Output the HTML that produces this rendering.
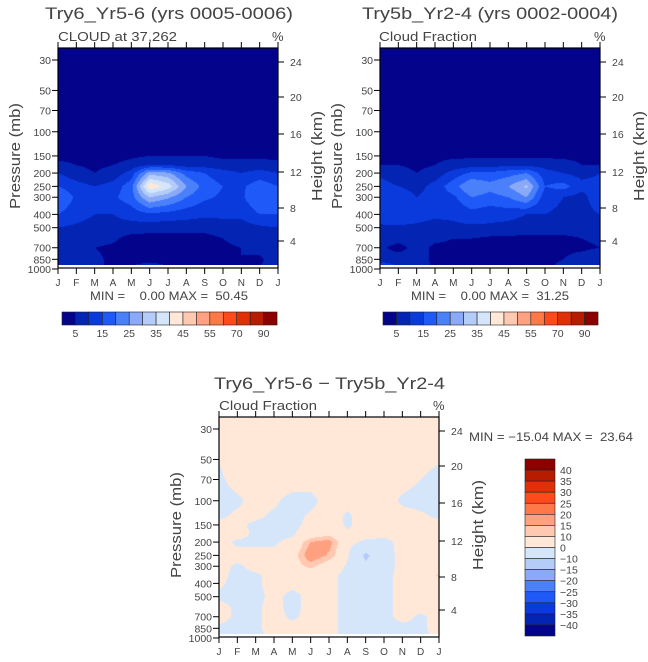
<!DOCTYPE html>
<html><head><meta charset="utf-8">
<style>
body{margin:0;background:#fff;width:648px;height:662px;overflow:hidden;position:relative;font-family:"Liberation Sans",sans-serif}
canvas{position:absolute}
svg{position:absolute;left:0;top:0}
text{font-family:"Liberation Sans",sans-serif;fill:#444;white-space:pre}
</style></head>
<body>
<canvas id="c1" width="220" height="217" style="left:58px;top:48px"></canvas>
<canvas id="c2" width="220" height="217" style="left:380px;top:48px"></canvas>
<canvas id="c3" width="220" height="217" style="left:219px;top:417px"></canvas>
<svg id="s" width="648" height="662"></svg>
<script>
const monthLabels=["J","F","M","A","M","J","J","A","S","O","N","D","J"];
const pressureTicks=[30,50,70,100,150,200,250,300,400,500,700,850,1000];
const heightTicks=[4,8,12,16,20,24];
const heightOffsets=[193,160,124,86,49,14];
const levelsCloud=[5,10,15,20,25,30,35,40,45,50,55,60,70,80,90];
const cloudBarLabels=["5","15","25","35","45","55","70","90"];
const levelsDiff=[-40,-35,-30,-25,-20,-15,-10,0,10,15,20,25,30,35,40];
const diffBarLabels=["40","35","30","25","20","15","10","0","\u221210","\u221215","\u221220","\u221225","\u221230","\u221235","\u221240"];
const palette=["#03038c","#0424b4","#0a3adc","#1f5af8","#4a80fa","#8aaaf8","#b4ccf8","#d6e6fa","#ffe8d8","#ffc8b0","#ffa080","#ff7848","#ff4a1c","#e03008","#b81c00","#8c0000"];
const pressureCloud=[25,100,150,175,200,250,300,400,500,600,700,850,950];
const cloudTry6=[
[0,0,0,0,0,0,0,0,0,0,0,0,0],
[1,1,1,1,1,1,1,1,1,1,1,1,1],
[4,4,3,3,4,5,5,5,5,4,4,4,4],
[6,5,4,5,7,10,10,8,8,7,7,7,6],
[10,7,5,7,12,28,26,18,15,12,10,12,10],
[15,12,10,12,18,44,38,25,18,15,14,18,15],
[20,14,12,14,18,30,26,20,16,14,14,20,20],
[15,12,10,10,12,14,13,12,11,11,11,15,15],
[10,9,8,8,8,7,7,7,7,8,8,9,10],
[9,8,7,6,3,3,3,3,3,5,7,8,9],
[9,8,5,4,3,3,3,3,3,4,5,7,9],
[8,7,6,4,4,4,4,4,4,4,5,4,8],
[7,6,5,5,5,6,5,5,5,5,5,5,7]];
const cloudTry5b=[
[0,0,0,0,0,0,0,0,0,0,0,0,0],
[1,1,1,1,1,1,1,1,1,1,1,1,1],
[3,3,3,4,4,4,4,4,4,4,4,4,3],
[5,5,4,5,7,8,8,9,9,8,7,5,5],
[9,7,5,7,12,16,16,18,20,12,10,8,10],
[12,10,8,12,18,25,22,25,31,15,17,12,12],
[15,14,10,12,14,20,18,20,25,12,10,8,14],
[13,14,12,11,11,13,12,12,10,10,9,8,10],
[9,9,9,8,9,9,9,8,7,7,7,7,9],
[8,7,8,6,5,5,4,4,4,4,4,5,6],
[6,3,7,4,4,4,4,4,4,4,4,4,5],
[9,8,7,4,4,4,4,4,4,4,5,7,9],
[12,10,8,4,4,4,4,4,4,4,6,8,10]];
const pressureDiff=[25,70,100,130,150,175,200,250,300,350,400,500,600,700,850,950];
const cloudDiff=[
[3,3,3,3,3,3,3,3,3,3,3,3,3],
[-1,2,3,3,3,3,3,3,3,3,2,0,-1],
[-2,-1,2,1,-2,-2,3,2,3,3,-1,-2,-2],
[-1,1,1,-1,-2,1,3,-1,3,3,2,1,-1],
[2,1,-1,-2,-2,2,3,-1,3,3,2,2,2],
[2,2,-1,-2,-1,5,8,1,2,2,2,2,2],
[2,-1,-1,-1,2,15,18,2,-1,-2,2,2,2],
[2,2,2,2,6,20,14,1,-12,-3,2,2,2],
[2,-1,2,2,6,12,5,-1,-8,-3,2,5,2],
[2,-2,-1,2,3,3,2,-2,-3,-2,2,6,11],
[1,-2,-1,2,2,2,2,-2,-3,-2,2,3,3],
[-1,-2,-2,2,-2,2,2,-2,-2,-2,2,2,2],
[2,-1,-1,2,-2,2,2,-2,-2,-2,2,2,2],
[2,-1,-1,2,-1,2,2,-2,-2,-2,2,-1,2],
[-1,-2,-1,2,2,2,2,-2,-2,-2,-2,-1,2],
[-2,-11,-2,2,2,2,2,-2,-2,-2,-2,-2,2]];

const PX_DEC=209/Math.log10(1000/30);
function yOfP(p){return 12+(Math.log10(p)-Math.log10(30))*PX_DEC;}
function pOfY(y){return Math.pow(10,Math.log10(30)+(y-12)/PX_DEC);}
function colorFor(v,levels){let i=0;while(i<levels.length&&v>=levels[i])i++;return palette[i];}

function renderContour(id,pres,grid,levels){
  const cv=document.getElementById(id),ctx=cv.getContext('2d');
  const W=220,H=217,lp=pres.map(p=>Math.log10(p));
  for(let y=0;y<H;y++){
    const p=pOfY(y+0.5);
    if(p>935)break;
    const l=Math.log10(p);
    let r=0;while(r<lp.length-2&&l>lp[r+1])r++;
    let t=(l-lp[r])/(lp[r+1]-lp[r]);t=Math.max(0,Math.min(1,t));
    for(let x=0;x<W;x++){
      const m=(x+0.5)/W*(monthLabels.length-1);
      const c=Math.min(Math.floor(m),monthLabels.length-2),s=m-c;
      const v=(1-t)*((1-s)*grid[r][c]+s*grid[r][c+1])+t*((1-s)*grid[r+1][c]+s*grid[r+1][c+1]);
      ctx.fillStyle=colorFor(v,levels);ctx.fillRect(x,y,1,1);
    }
  }
}
renderContour('c1',pressureCloud,cloudTry6,levelsCloud);
renderContour('c2',pressureCloud,cloudTry5b,levelsCloud);
renderContour('c3',pressureDiff,cloudDiff,levelsDiff);

const NS="http://www.w3.org/2000/svg",svg=document.getElementById('s');
function el(tag,attrs,txt){const e=document.createElementNS(NS,tag);for(const k in attrs)e.setAttribute(k,attrs[k]);if(txt!==undefined)e.textContent=txt;svg.appendChild(e);return e;}
function txt(x,y,s,size,name,opts){
  const e=el('text',Object.assign({x:x,y:y,'font-size':size},opts||{}),s);
  
  
  return e;
}
function axes(L,T,pfx){
  const f=el('rect',{x:L,y:T,width:220,height:220,fill:'none',stroke:'#000','stroke-width':1.2});
  
  
  monthLabels.forEach((m,i)=>{
    const x=L+i*220/12;
    el('line',{x1:x,y1:T+220,x2:x,y2:T+226,stroke:'#000'});
    el('line',{x1:x,y1:T,x2:x,y2:T-6,stroke:'#000'});
    txt(x,T+238,m,10,pfx+'-month-label',{'text-anchor':'middle'});
  });
  pressureTicks.forEach(p=>{
    const y=T+yOfP(p);
    el('line',{x1:L,y1:y,x2:L-6,y2:y,stroke:'#000'});
    txt(L-7,y+4,String(p),10.5,pfx+'-pressure-tick',{'text-anchor':'end'});
  });
  heightTicks.forEach((h,i)=>{
    const y=T+heightOffsets[i];
    el('line',{x1:L+220,y1:y,x2:L+226,y2:y,stroke:'#000'});
    txt(L+232,y+4,String(h),10.5,pfx+'-height-tick');
  });
  txt(0,0,'Pressure (mb)',15,pfx+'-y-axis-title',{transform:`translate(${L-38},${T+108}) rotate(-90)`,'text-anchor':'middle',textLength:106,lengthAdjust:'spacingAndGlyphs',fill:'#666'});
  txt(0,0,'Height (km)',15,pfx+'-y2-axis-title',{transform:`translate(${L+264},${T+108}) rotate(-90)`,'text-anchor':'middle',textLength:90,lengthAdjust:'spacingAndGlyphs',fill:'#666'});
  txt(L+214,T-7,'%',13,pfx+'-units-label');
}
function hbar(L,T,pfx){
  palette.forEach((c,i)=>{
    const r=el('rect',{x:L+i*13.44,y:T,width:13.44,height:13,fill:c,stroke:'#222','stroke-width':0.6});
    
    
  });
  cloudBarLabels.forEach((s,j)=>txt(L+(2*j+1)*13.44,T+25,s,10.5,pfx+'-colorbar-label',{'text-anchor':'middle'}));
}
axes(58,48,'p1');axes(380,48,'p2');axes(219,417,'p3');
txt(45,19,'Try6_Yr5-6 (yrs 0005-0006)',17,'p1-title',{textLength:248,lengthAdjust:'spacingAndGlyphs',fill:'#555'});
txt(58,41,'CLOUD at 37,262',13,'p1-subtitle',{textLength:119,lengthAdjust:'spacingAndGlyphs'});
txt(90,300,'MIN =    0.00 MAX =  50.45',12,'p1-min-max',{textLength:158,lengthAdjust:'spacingAndGlyphs'});
txt(362,19,'Try5b_Yr2-4 (yrs 0002-0004)',17,'p2-title',{textLength:256,lengthAdjust:'spacingAndGlyphs',fill:'#555'});
txt(379,41,'Cloud Fraction',13,'p2-subtitle',{textLength:98,lengthAdjust:'spacingAndGlyphs'});
txt(411,300,'MIN =    0.00 MAX =  31.25',12,'p2-min-max',{textLength:158,lengthAdjust:'spacingAndGlyphs'});
txt(214,389,'Try6_Yr5-6 \u2212 Try5b_Yr2-4',17,'p3-title',{textLength:231,lengthAdjust:'spacingAndGlyphs',fill:'#555'});
txt(219,410,'Cloud Fraction',13,'p3-subtitle',{textLength:98,lengthAdjust:'spacingAndGlyphs'});
txt(469,441,'MIN = \u221215.04 MAX =  23.64',12,'p3-min-max',{textLength:164,lengthAdjust:'spacingAndGlyphs'});
hbar(62,312,'p1');hbar(383,312,'p2');
const bh=177/16;
palette.slice().reverse().forEach((c,i)=>{
  const r=el('rect',{x:525,y:459+i*bh,width:30,height:bh,fill:c,stroke:'#222','stroke-width':0.6});
  
  
});
diffBarLabels.forEach((s,i)=>txt(560,459+(i+1)*bh+4,s,10.5,'p3-colorbar-label'));
</script>
</body></html>
